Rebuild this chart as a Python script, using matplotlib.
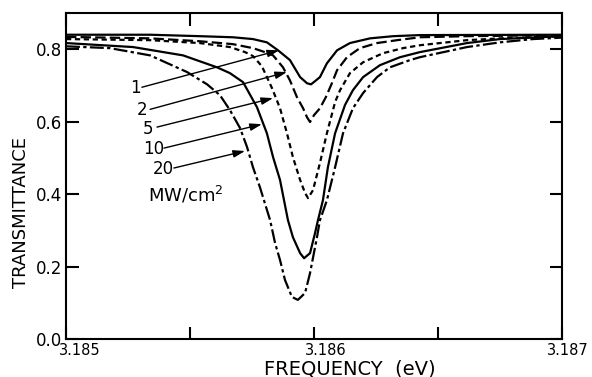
import matplotlib
matplotlib.use("Agg")
import matplotlib.pyplot as plt
import matplotlib.transforms as mtransforms

# curves: frequency (eV) and transmittance for each intensity (MW/cm2)
freq_1 = [3.185000, 3.185339, 3.185540, 3.185673, 3.185754, 3.185810, 3.185855, 3.185903,
          3.185944, 3.185972, 3.185988, 3.186008, 3.186024, 3.186052, 3.186093, 3.186145,
          3.186226, 3.186319, 3.186427, 3.187000]
trans_1 = [0.840, 0.840, 0.836, 0.833, 0.828, 0.819, 0.797, 0.770,
           0.723, 0.706, 0.703, 0.714, 0.723, 0.761, 0.797, 0.817,
           0.830, 0.836, 0.839, 0.840]

freq_2 = [3.185000, 3.185339, 3.185540, 3.185673, 3.185754, 3.185802, 3.185835, 3.185875,
          3.185903, 3.185931, 3.185956, 3.185972, 3.185984, 3.186000, 3.186024, 3.186048,
          3.186069, 3.186093, 3.186133, 3.186185, 3.186254, 3.186335, 3.186427, 3.186617,
          3.187000]
trans_2 = [0.834, 0.830, 0.822, 0.814, 0.803, 0.792, 0.783, 0.750,
           0.714, 0.668, 0.637, 0.612, 0.599, 0.618, 0.637, 0.668,
           0.701, 0.742, 0.778, 0.803, 0.817, 0.825, 0.833, 0.836,
           0.839]

freq_5 = [3.185000, 3.185339, 3.185540, 3.185661, 3.185722, 3.185754, 3.185790, 3.185831,
          3.185863, 3.185891, 3.185915, 3.185944, 3.185964, 3.185976, 3.185996, 3.186024,
          3.186052, 3.186085, 3.186105, 3.186145, 3.186198, 3.186278, 3.186359, 3.186427,
          3.186617, 3.186750, 3.187000]
trans_5 = [0.828, 0.825, 0.817, 0.806, 0.792, 0.781, 0.753, 0.692,
           0.637, 0.568, 0.502, 0.439, 0.403, 0.389, 0.411, 0.486,
           0.568, 0.654, 0.687, 0.734, 0.764, 0.789, 0.803, 0.811,
           0.825, 0.830, 0.836]

freq_10 = [3.185000, 3.185270, 3.185472, 3.185609, 3.185661, 3.185714, 3.185770, 3.185810,
           3.185835, 3.185863, 3.185895, 3.185915, 3.185944, 3.185960, 3.185984, 3.186004,
           3.186016, 3.186036, 3.186056, 3.186085, 3.186125, 3.186157, 3.186198, 3.186266,
           3.186347, 3.186427, 3.186617, 3.186750, 3.187000]
trans_10 = [0.817, 0.806, 0.783, 0.750, 0.734, 0.709, 0.640, 0.568,
            0.502, 0.439, 0.328, 0.281, 0.237, 0.223, 0.237, 0.292,
            0.328, 0.383, 0.474, 0.568, 0.646, 0.687, 0.723, 0.756,
            0.778, 0.792, 0.817, 0.828, 0.836]

freq_20 = [3.185000, 3.185177, 3.185339, 3.185488, 3.185569, 3.185621, 3.185661, 3.185702,
           3.185730, 3.185754, 3.185782, 3.185823, 3.185843, 3.185863, 3.185883, 3.185911,
           3.185935, 3.185964, 3.185984, 3.186012, 3.186024, 3.186052, 3.186085, 3.186117,
           3.186157, 3.186198, 3.186254, 3.186306, 3.186387, 3.186427, 3.186617, 3.186750,
           3.186883, 3.187000]
trans_20 = [0.808, 0.803, 0.783, 0.737, 0.703, 0.673, 0.632, 0.582,
            0.530, 0.474, 0.419, 0.328, 0.265, 0.218, 0.163, 0.116,
            0.108, 0.127, 0.182, 0.281, 0.328, 0.383, 0.474, 0.568,
            0.637, 0.679, 0.723, 0.750, 0.770, 0.778, 0.806, 0.819,
            0.828, 0.832]

# curve labels and arrows (label position, arrow start, arrow tip)
labels = ["1", "2", "5", "10", "20"]
label_freq = [3.185278, 3.185306, 3.185331, 3.185355, 3.185391]
label_trans = [0.692, 0.632, 0.579, 0.524, 0.469]
arrow_from_freq = [3.185306, 3.185339, 3.185367, 3.185395, 3.185435]
arrow_from_trans = [0.695, 0.634, 0.585, 0.527, 0.472]
arrow_to_freq = [3.185859, 3.185891, 3.185835, 3.185790, 3.185722]
arrow_to_trans = [0.797, 0.737, 0.665, 0.593, 0.519]
unit_freq = 3.185484
unit_trans = 0.397

x_major = [3.185, 3.186, 3.187]
x_minor = [3.1855, 3.1865]
y_ticks = [0.0, 0.2, 0.4, 0.6, 0.8]

plt.rcParams['lines.scale_dashes'] = False

fig = plt.figure(figsize=(5.92, 3.77), dpi=100)
ax = fig.add_axes([66/592, 38/377, 496/592, 326/377])

lw = 1.6
style = dict(color='k', lw=lw, solid_joinstyle='round', dash_joinstyle='round')
ax.plot(freq_1, trans_1, **style)
ax.plot(freq_2, trans_2, dashes=(7.5, 3), **style)
ax.plot(freq_5, trans_5, dashes=(3.8, 2.6), **style)
ax.plot(freq_10, trans_10, **style)
ax.plot(freq_20, trans_20, dashes=(10, 2.4, 2.4, 2.4), **style)

for i in range(len(labels)):
    ax.text(label_freq[i], label_trans[i], labels[i], fontsize=12, ha='center', va='center')
    ax.annotate('', xy=(arrow_to_freq[i], arrow_to_trans[i]),
                xytext=(arrow_from_freq[i], arrow_from_trans[i]),
                arrowprops=dict(arrowstyle='-|>,head_length=0.7,head_width=0.22',
                                color='k', lw=1.0, shrinkA=0, shrinkB=0, mutation_scale=10))
ax.text(unit_freq, unit_trans, 'MW/cm$^2$', fontsize=13, ha='center', va='center')

ax.set_xlim(3.185, 3.187)
ax.set_ylim(0, 0.9)
ax.set_xticks(x_major)
ax.set_xticks(x_minor, minor=True)
ax.set_xticklabels(['%.3f' % v for v in x_major], fontsize=10.5)
ax.set_yticks(y_ticks)
ax.set_yticklabels(['%.1f' % v for v in y_ticks], fontsize=12)
ax.tick_params(which='both', direction='in', top=True, right=True, length=9, width=1.5)
ax.tick_params(axis='x', which='both', pad=3)
ax.tick_params(axis='y', pad=3)
for s in ax.spines.values():
    s.set_linewidth(1.5)

# the x labels in the original sit a little right of their ticks
for lab, dx in zip(ax.get_xticklabels(), [14, 12, 6]):
    shift = mtransforms.ScaledTranslation(dx/100, 0, fig.dpi_scale_trans)
    lab.set_transform(lab.get_transform() + shift)

fig.text(21/592, 1 - 213/377, 'TRANSMITTANCE', rotation=90, ha='center', va='center', fontsize=13)
fig.text(350/592, 1 - 369/377, 'FREQUENCY  (eV)', ha='center', va='center', fontsize=14)

fig.savefig('out.png', dpi=100)
